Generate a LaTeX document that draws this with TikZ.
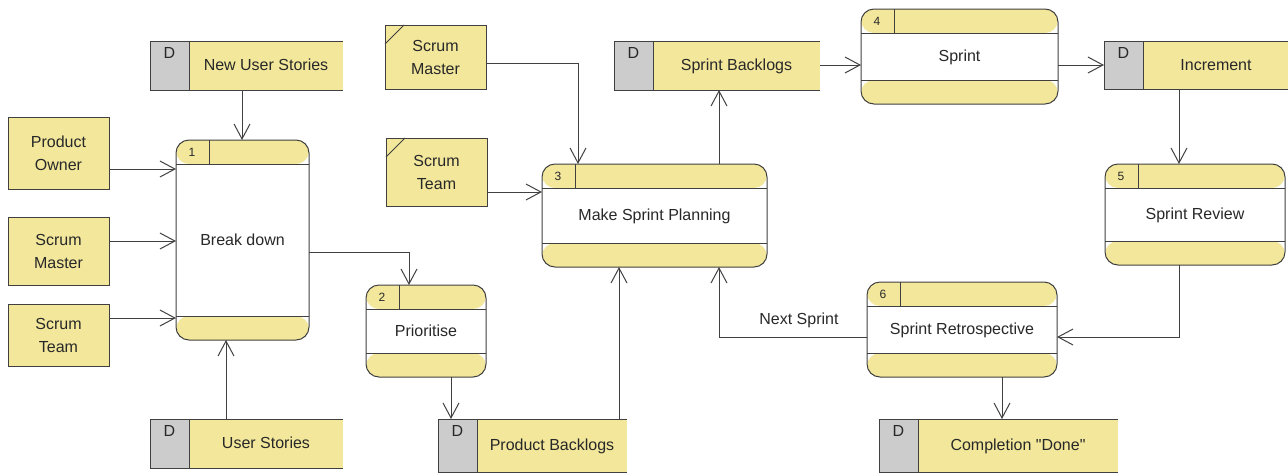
\documentclass[tikz,border=0pt]{standalone}
\usepackage{fontspec}
\setmainfont{Liberation Sans}
% same family without the TeX quote mapping, for straight double quotes
\newfontfamily\straightq{Liberation Sans}
\usetikzlibrary{arrows.meta}

\definecolor{yel}{RGB}{242,231,155}
\definecolor{storegray}{RGB}{204,204,204}
\definecolor{bd}{RGB}{64,64,64}
\definecolor{ink}{RGB}{40,40,40}

\tikzset{
  base/.style={outer sep=0pt, inner sep=0pt, text=ink,
    font=\fontsize{16}{23}\selectfont, align=center},
  oneline/.style={base, text height=10pt, text depth=0pt},
  bdline/.style={draw=bd, line width=1pt},
  proc/.style={oneline, rectangle, rounded corners=13pt, draw=bd, line width=1pt, fill=white,
    path picture={
      \fill[yel] ([yshift=-24pt]path picture bounding box.north west) rectangle (path picture bounding box.north east);
      \fill[yel] ([yshift=24pt]path picture bounding box.south west) rectangle (path picture bounding box.south east);
    }},
  numtxt/.style={base, font=\fontsize{12}{12}\selectfont},
  store/.style={base, rectangle, fill=yel,
    path picture={
      \fill[storegray] (path picture bounding box.north west) rectangle ([xshift=39pt]path picture bounding box.south west);
    }},
  entity/.style={base, rectangle, draw=bd, line width=1pt, fill=yel},
  flow/.style={draw=bd, line width=1pt, -{Straight Barb[length=15pt,width=16pt,line width=1pt]}},
}

% process: name, number, left, top, right, bottom, label
\newcommand\procbox[7]{%
  \node[proc, minimum width={#5-#3}, minimum height={#6-#4}] (#1) at ({(#3+#5)/2},{(#4+#6)/2}) {#7};
  \draw[bdline] ([yshift=-24pt]#1.north west) -- ([yshift=-24pt]#1.north east);
  \draw[bdline] ([yshift=24pt]#1.south west) -- ([yshift=24pt]#1.south east);
  \draw[bdline] ([xshift=33pt]#1.north west) -- ([xshift=33pt,yshift=-24pt]#1.north west);
  \node[numtxt] (#1-num) at ([xshift=16pt,yshift=-12pt]#1.north west) {#2};
}

% data store: name, left, top, right, bottom, label
\newcommand\datastore[6]{%
  \node[store, minimum width={#4-#2}, minimum height={#5-#3}] (#1) at ({(#2+#4)/2},{(#3+#5)/2}) {};
  \draw[bdline] (#1.north east) -- (#1.north west) -- (#1.south west) -- (#1.south east);
  \draw[bdline] ([xshift=39pt]#1.north west) -- ([xshift=39pt]#1.south west);
  \node[base] (#1-d) at ({#2+19.5},{#3+12}) {D};
  \node[oneline] (#1-label) at ({(#2+39+#4)/2},{(#3+#5)/2}) {#6};
}

% external entity: name, left, top, right, bottom, label
\newcommand\extentity[6]{%
  \node[entity, minimum width={#4-#2}, minimum height={#5-#3}] (#1) at ({(#2+#4)/2},{(#3+#5)/2}) {#6};
}
% duplicated external entity (corner mark)
\newcommand\dupentity[6]{%
  \extentity{#1}{#2}{#3}{#4}{#5}{#6}
  \draw[bdline] ([yshift=-19pt]#1.north west) -- ([xshift=19pt]#1.north west);
}

\begin{document}
\begin{tikzpicture}[x=1pt, y=-1pt]
  \useasboundingbox (0,0) rectangle (1288,472);

  % processes
  \procbox{p1}{1}{176}{140}{309}{340}{Break down}
  \procbox{p2}{2}{366}{285}{486}{377}{Prioritise}
  \procbox{p3}{3}{542}{164}{767}{267}{Make Sprint Planning}
  \procbox{p4}{4}{861}{9}{1058}{104}{Sprint}
  \procbox{p5}{5}{1105}{164}{1285}{265}{Sprint Review}
  \procbox{p6}{6}{867}{282}{1057}{377}{Sprint Retrospective}

  % data stores
  \datastore{sNew}{150}{41}{343}{90}{New User Stories}
  \datastore{sUser}{150}{419}{343}{468}{User Stories}
  \datastore{sProd}{438}{419}{627}{472}{Product Backlogs}
  \datastore{sSprint}{614}{41}{820}{90}{Sprint Backlogs}
  \datastore{sInc}{1104}{41}{1289}{89}{Increment}
  \datastore{sDone}{879}{419}{1118}{472}{Completion {\straightq"}Done{\straightq"}}

  % external entities
  \extentity{eOwner}{8}{117}{109}{189}{Product\\Owner}
  \extentity{eMasterA}{8}{217}{109}{285}{Scrum\\Master}
  \extentity{eTeamA}{8}{304}{109}{366}{Scrum\\Team}
  \dupentity{eMasterB}{385}{25}{486}{89}{Scrum\\Master}
  \dupentity{eTeamB}{386}{138}{487}{206}{Scrum\\Team}

  % data flows
  \draw[flow] (sNew.south -| 242,0) -- (p1.north -| 242,0);
  \draw[flow] (eOwner.east |- 0,169) -- (p1.west |- 0,169);
  \draw[flow] (eMasterA.east |- 0,241) -- (p1.west |- 0,241);
  \draw[flow] (eTeamA.east |- 0,318) -- (p1.west |- 0,318);
  \draw[flow] (sUser.north -| 226,0) -- (p1.south -| 226,0);
  \draw[flow] (p1.east |- 0,252) -| (p2.north -| 409,0);
  \draw[flow] (p2.south -| 451,0) -- (sProd.north -| 451,0);
  \draw[flow] (sProd.north -| 619,0) -- (p3.south -| 619,0);
  \draw[flow] (eMasterB.east |- 0,63) -| (p3.north -| 578,0);
  \draw[flow] (eTeamB.east |- 0,192) -- (p3.west |- 0,192);
  \draw[flow] (p3.north -| 719,0) -- (sSprint.south -| 719,0);
  \draw[flow] (sSprint.east |- 0,65) -- (p4.west |- 0,65);
  \draw[flow] (p4.east |- 0,65) -- (sInc.west |- 0,65);
  \draw[flow] (sInc.south -| 1179,0) -- (p5.north -| 1179,0);
  \draw[flow] (p5.south -| 1179,0) |- (p6.east |- 0,337);
  \draw[flow] (p6.west |- 0,337) -| node[oneline, pos=0.23, yshift=18pt] (nextlbl) {Next Sprint} (p3.south -| 719,0);
  \draw[flow] (p6.south -| 1002,0) -- (sDone.north -| 1002,0);
\end{tikzpicture}
\end{document}
